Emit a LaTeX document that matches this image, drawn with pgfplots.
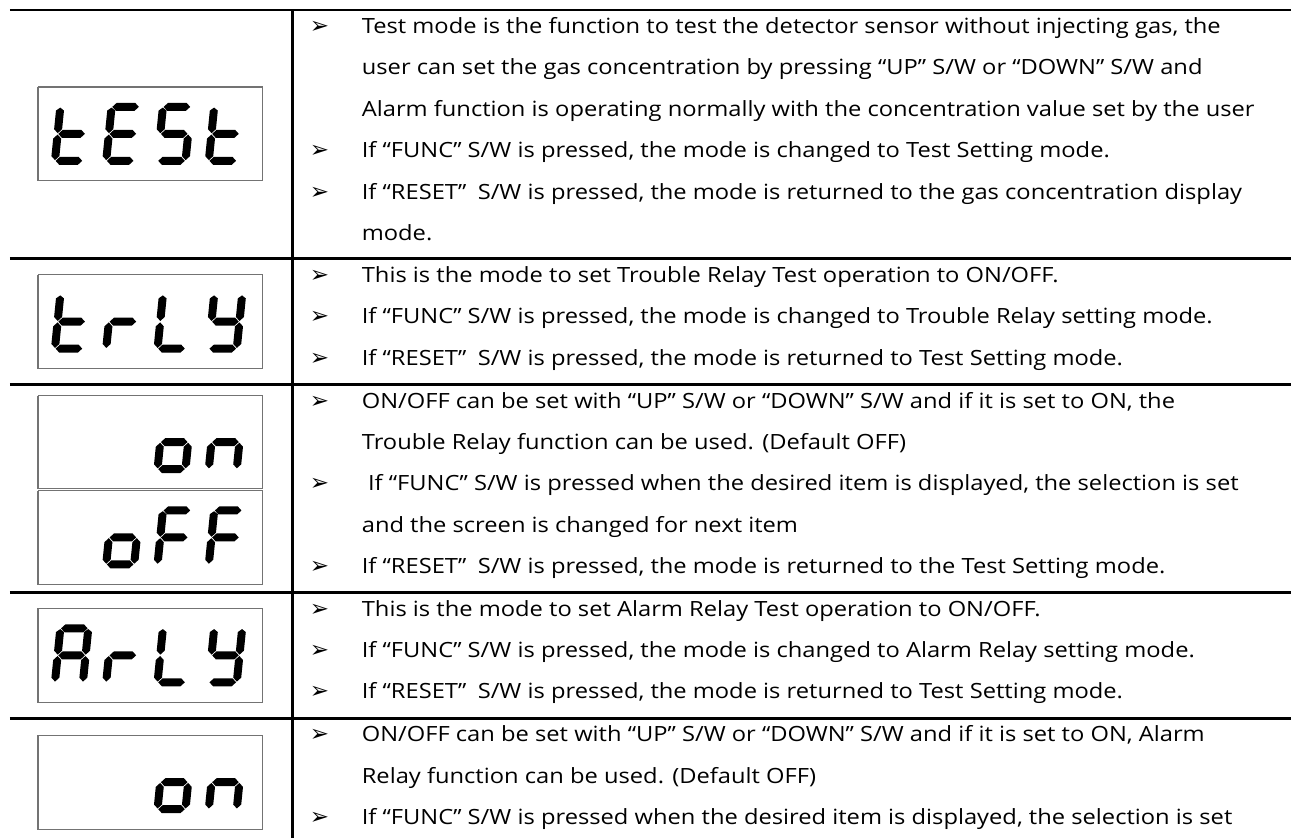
\documentclass[border=0pt]{standalone}
\usepackage{fontspec}
\usepackage{pgfplots}
\usepackage{pgfplotstable}
\pgfplotsset{compat=1.18}
\setmainfont[FakeStretch=1.13]{Open Sans}
\newfontfamily\dejavu{DejaVu Sans}
\definecolor{boxgray}{gray}{0.45}

% seven-segment shapes (u to the right, v upwards), W=28, H=54, thickness 8
\pgfplotstableread[row sep=\\]{u v\\ 0.7 54\\ 4.7 58\\ 23.3 58\\ 27.3 54\\ 23.3 50\\ 4.7 50\\ 0.7 54\\}\SegA
\pgfplotstableread[row sep=\\]{u v\\ 28 27.7\\ 32 31.7\\ 32 50.3\\ 28 53.3\\ 24 50.3\\ 24 31.7\\ 28 27.7\\}\SegB
\pgfplotstableread[row sep=\\]{u v\\ 28 0.7\\ 32 4.7\\ 32 22.3\\ 28 26.3\\ 24 22.3\\ 24 4.7\\ 28 0.7\\}\SegC
\pgfplotstableread[row sep=\\]{u v\\ 0.7 0\\ 4.7 4\\ 23.3 4\\ 27.3 0\\ 23.3 -4\\ 4.7 -4\\ 0.7 0\\}\SegD
\pgfplotstableread[row sep=\\]{u v\\ 0 0.7\\ 4 4.7\\ 4 22.3\\ 0 26.3\\ -4 22.3\\ -4 4.7\\ 0 0.7\\}\SegE
\pgfplotstableread[row sep=\\]{u v\\ 0 27.7\\ 4 31.7\\ 4 50.3\\ 0 53.3\\ -4 50.3\\ -4 31.7\\ 0 27.7\\}\SegF
\pgfplotstableread[row sep=\\]{u v\\ 0.7 27\\ 4.7 31\\ 23.3 31\\ 27.3 27\\ 23.3 23\\ 4.7 23\\ 0.7 27\\}\SegG

\newcommand{\seg}[3]{\addplot[fill=black, draw=none, mark=none, forget plot] table[x expr={\thisrow{u}+0.1*\thisrow{v}+#2}, y expr={#3-\thisrow{v}}] {#1};}
\newcommand{\SSt}[2]{\seg\SegF{#1}{#2}\seg\SegE{#1}{#2}\seg\SegG{#1}{#2}\seg\SegD{#1}{#2}}
\newcommand{\SSE}[2]{\seg\SegA{#1}{#2}\seg\SegF{#1}{#2}\seg\SegG{#1}{#2}\seg\SegE{#1}{#2}\seg\SegD{#1}{#2}}
\newcommand{\SSS}[2]{\seg\SegA{#1}{#2}\seg\SegF{#1}{#2}\seg\SegG{#1}{#2}\seg\SegC{#1}{#2}\seg\SegD{#1}{#2}}
\newcommand{\SSr}[2]{\seg\SegE{#1}{#2}\seg\SegG{#1}{#2}}
\newcommand{\SSL}[2]{\seg\SegF{#1}{#2}\seg\SegE{#1}{#2}\seg\SegD{#1}{#2}}
\newcommand{\SSY}[2]{\seg\SegF{#1}{#2}\seg\SegB{#1}{#2}\seg\SegG{#1}{#2}\seg\SegC{#1}{#2}\seg\SegD{#1}{#2}}
\newcommand{\SSo}[2]{\seg\SegG{#1}{#2}\seg\SegE{#1}{#2}\seg\SegC{#1}{#2}\seg\SegD{#1}{#2}}
\newcommand{\SSn}[2]{\seg\SegE{#1}{#2}\seg\SegG{#1}{#2}\seg\SegC{#1}{#2}}
\newcommand{\SSF}[2]{\seg\SegA{#1}{#2}\seg\SegF{#1}{#2}\seg\SegG{#1}{#2}\seg\SegE{#1}{#2}}
\newcommand{\SSA}[2]{\seg\SegA{#1}{#2}\seg\SegB{#1}{#2}\seg\SegC{#1}{#2}\seg\SegE{#1}{#2}\seg\SegF{#1}{#2}\seg\SegG{#1}{#2}}

\newcommand{\dbox}[2]{\addplot[draw=boxgray, line width=1.3pt, mark=none, forget plot] coordinates {(38,#1) (263,#1) (263,#2) (38,#2) (38,#1)};}
\newcommand{\hl}[1]{\addplot[black, line width=2.6pt, mark=none, forget plot] coordinates {(10,#1) (1292,#1)};}
\newcommand{\bl}[2]{\node[anchor=mid west, inner sep=0pt] at (axis cs:310,#1) {\dejavu\fontsize{23}{23}\selectfont ➢};
  \node[anchor=mid west, inner sep=0pt] at (axis cs:362,#1) {#2};}
\newcommand{\tl}[2]{\node[anchor=mid west, inner sep=0pt] at (axis cs:362,#1) {#2};}

\begin{document}
\begin{tikzpicture}[font=\fontsize{21}{26}\selectfont]
\begin{axis}[
  scale only axis, width=1292pt, height=839pt,
  xmin=0, xmax=1292, ymin=0, ymax=839, y dir=reverse,
  hide axis, clip=false]
\path (axis cs:0,0) rectangle (axis cs:1292,839);
% grid lines of the table
\hl{10}\hl{259}\hl{385}\hl{593}\hl{719}
\addplot[black, line width=2.6pt, mark=none, forget plot] coordinates {(293,10) (293,839)};
% display boxes
\dbox{87}{181}
\dbox{275}{369}
\dbox{396}{489}
\dbox{491}{585}
\dbox{609}{703}
\dbox{736}{830}
% tESt
\SSt{55}{161}\SSE{106.3}{161}\SSS{157.7}{161}\SSt{209}{161}
% trLY
\SSt{55}{349}\SSr{106.3}{349}\SSL{157.7}{349}\SSY{209}{349}
% on
\SSo{157.7}{469.5}\SSn{209}{469.5}
% oFF
\SSo{106.3}{565}\SSF{157.7}{565}\SSF{209}{565}
% ArLY
\SSA{55}{683}\SSr{106.3}{683}\SSL{157.7}{683}\SSY{209}{683}
% on
\SSo{157.7}{810}\SSn{209}{810}
% text
\bl{31}{Test mode is the function to test the detector sensor without injecting gas, the}
\tl{72.4}{user can set the gas concentration by pressing “UP” S/W or “DOWN” S/W and}
\tl{113.8}{Alarm function is operating normally with the concentration value set by the user}
\bl{155.2}{If “FUNC” S/W is pressed, the mode is changed to Test Setting mode.}
\bl{196.6}{If “RESET”\hspace{0.25em} S/W is pressed, the mode is returned to the gas concentration display}
\tl{238}{mode.}
\bl{280}{This is the mode to set Trouble Relay Test operation to ON/OFF.}
\bl{321.4}{If “FUNC” S/W is pressed, the mode is changed to Trouble Relay setting mode.}
\bl{362.8}{If “RESET”\hspace{0.25em} S/W is pressed, the mode is returned to Test Setting mode.}
\bl{406}{ON/OFF can be set with “UP” S/W or “DOWN” S/W and if it is set to ON, the}
\tl{447.4}{Trouble Relay function can be used. (Default OFF)}
\bl{488.8}{\hspace{0.3em}If “FUNC” S/W is pressed when the desired item is displayed, the selection is set}
\tl{530.2}{and the screen is changed for next item}
\bl{571.6}{If “RESET”\hspace{0.25em} S/W is pressed, the mode is returned to the Test Setting mode.}
\bl{614}{This is the mode to set Alarm Relay Test operation to ON/OFF.}
\bl{655.4}{If “FUNC” S/W is pressed, the mode is changed to Alarm Relay setting mode.}
\bl{696.8}{If “RESET”\hspace{0.25em} S/W is pressed, the mode is returned to Test Setting mode.}
\bl{740}{ON/OFF can be set with “UP” S/W or “DOWN” S/W and if it is set to ON, Alarm}
\tl{781.4}{Relay function can be used. (Default OFF)}
\bl{822.8}{If “FUNC” S/W is pressed when the desired item is displayed, the selection is set}
\end{axis}
\end{tikzpicture}
\end{document}
